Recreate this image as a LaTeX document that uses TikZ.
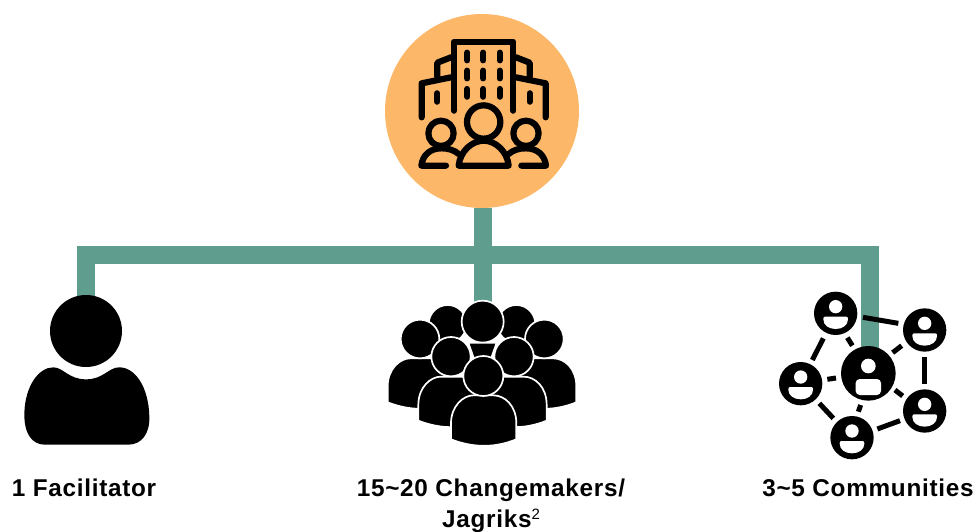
\documentclass[tikz,border=0pt]{standalone}
\usepackage{fontspec}
\setmainfont{Liberation Sans}[LetterSpace=3]
\definecolor{hubfill}{HTML}{FDB769}
\definecolor{barcol}{HTML}{5F9E8F}
\tikzset{
  x=1pt,y=-1pt,
  zoomed/.style={x=0.33333pt,y=-0.33333pt},
  trunk/.style={draw=barcol,line width=18pt,miter limit=10},
  icon/.style={draw=black,line width=6.2pt,line cap=round,line join=round},
  crowd/.style={fill=black,draw=white,line width=1.7pt},
  link/.style={draw=black,line width=5pt},
  caption/.style={font=\fontsize{24.3}{28}\bfseries\selectfont,anchor=base,inner sep=0pt},
}
\newcommand{\crowdbody}[2]{% centre x, top y
  \path[crowd] (#1-98,#2+130) -- (#1-98,#2+82) .. controls (#1-98,#2+30) and (#1-61,#2-2) .. (#1-31,#2-2)
    -- (#1+29,#2-2) .. controls (#1+64,#2-2) and (#1+98,#2+30) .. (#1+98,#2+82) -- (#1+98,#2+130)
    .. controls (#1+34,#2+156) and (#1-31,#2+156) .. (#1-98,#2+130) -- cycle;}
\newcommand{\crowdhead}[3]{\path[crowd] (#1,#2) circle[radius=#3];}
\newcommand{\netnode}[2]{%
  \fill[black] (#1,#2) circle[radius=65];
  \fill[white] (#1,#2-20) circle[radius=20];
  \fill[white] (#1-32,#2+10) -- (#1+32,#2+10) .. controls (#1+36,#2+10) and (#1+37,#2+13) .. (#1+37,#2+18)
    .. controls (#1+37,#2+36) and (#1+20,#2+47) .. (#1,#2+47)
    .. controls (#1-20,#2+47) and (#1-37,#2+36) .. (#1-37,#2+18)
    .. controls (#1-37,#2+13) and (#1-36,#2+10) .. (#1-32,#2+10) -- cycle;}
\begin{document}
\begin{tikzpicture}
\useasboundingbox (0,0) rectangle (976,532);
% connectors
\node[circle,fill=hubfill,minimum size=194pt,inner sep=0pt] (hub) at (482,111) {};
\coordinate (fac) at (86,310);
\coordinate (chg) at (483,310);
\coordinate (com) at (870,355);
\coordinate (rail) at (483,255);
\draw[trunk] (hub.south-|chg) -- (chg);
\draw[trunk] (fac) -- (fac|-rail) -- (com|-rail) -- (com);
% building and people
\begin{scope}[zoomed,shift={(380pt,0pt)}]
  \draw[icon] (222,332) -- (222,125) -- (400,125) -- (400,332);
  \foreach \xx in {262,310,359} \foreach \yy in {158,212,267}
    \draw[icon] (\xx,\yy) -- (\xx,\yy+23);
  \draw[icon] (213,172) -- (172,188) -- (172,230);
  \draw[icon] (213,232) -- (125,250) -- (125,352);
  \draw[icon] (408,172) -- (449,188) -- (449,230);
  \draw[icon] (408,232) -- (497,250) -- (497,352);
  \draw[icon] (172,280) -- (172,305);
  \draw[icon] (449,280) -- (449,305);
  \draw[icon] (311,366) circle[radius=50];
  \draw[icon] (183,400) circle[radius=38];
  \draw[icon] (438,400) circle[radius=38];
  \draw[icon] (236,497) .. controls (240,455) and (275,422) .. (311,422) .. controls (347,422) and (382,455) .. (386,497) -- cycle;
  \draw[icon] (198,497) -- (124,497) .. controls (128,465) and (150,445) .. (185,445) .. controls (205,445) and (222,450) .. (236,462);
  \draw[icon] (424,497) -- (498,497) .. controls (494,465) and (472,445) .. (437,445) .. controls (417,445) and (400,450) .. (386,462);
\end{scope}
% facilitator
\begin{scope}[zoomed,shift={(0pt,-280pt)}]
  \fill[black] (258,153) circle[radius=108];
  \fill[black] (73,400) .. controls (75,320) and (115,262) .. (160,262)
    .. controls (190,262) and (205,298) .. (258,298)
    .. controls (311,298) and (325,262) .. (358,262)
    .. controls (405,262) and (446,320) .. (448,410)
    .. controls (450,460) and (425,494) .. (385,494) -- (135,494)
    .. controls (95,494) and (72,460) .. (73,400) -- cycle;
\end{scope}
% crowd
\begin{scope}[zoomed,shift={(380pt,-290pt)}]
  \crowdhead{203}{102}{57}
  \crowdhead{409}{102}{57}
  \crowdbody{121}{207}
  \crowdbody{491}{207}
  \crowdhead{120}{147}{58}
  \crowdhead{493}{147}{58}
  \crowdhead{308}{95}{63}
  \path[crowd] (265,158) -- (350,158) -- (330,215) -- (285,215) -- cycle;
  \crowdbody{213}{262}
  \crowdbody{402}{262}
  \crowdhead{213}{200}{59}
  \crowdhead{402}{200}{59}
  \crowdbody{311}{318}
  \crowdhead{310}{258}{60}
\end{scope}
% network
\begin{scope}[zoomed,shift={(770pt,-280pt)}]
  \draw[link] (279,112) -- (385,130);
  \draw[link] (160,175) -- (127,240);
  \draw[link] (232,173) -- (247,197);
  \draw[link] (395,197) -- (368,218);
  \draw[link] (464,232) -- (464,312);
  \draw[link] (172,298) -- (198,294);
  \draw[link] (148,370) -- (190,415);
  \draw[link] (272,375) -- (265,395);
  \draw[link] (375,330) -- (398,348);
  \draw[link] (322,447) -- (390,422);
  \netnode{197}{100}
  \netnode{464}{150}
  \netnode{92}{311}
  \netnode{464}{393}
  \netnode{246}{473}
  \fill[black] (295,280) circle[radius=82];
  \fill[white] (295,258) circle[radius=22];
  \fill[white,rounded corners=4pt] (257,297) -- (333,297) -- (333,345) -- (257,345) -- cycle;
\end{scope}
% captions
\node[caption] (t1) at (84,496) {1 Facilitator};
\node[caption] (t2) at (491,496) {15\textasciitilde20 Changemakers/};
\node[caption] (t3) at (491,527) {Jagriks\raisebox{8pt}{\fontsize{15}{15}\mdseries\selectfont 2}};
\node[caption] (t4) at (868,496) {3\textasciitilde5 Communities};
\end{tikzpicture}
\end{document}
